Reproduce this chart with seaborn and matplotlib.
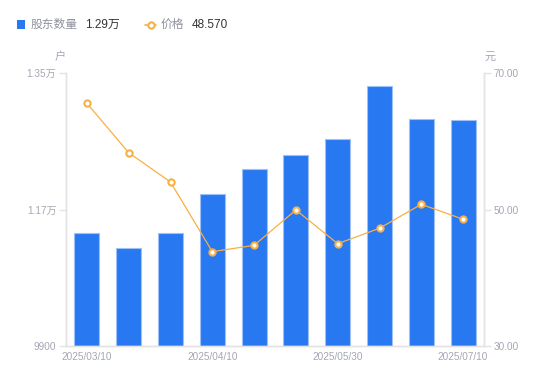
import numpy as np
import pandas as pd
import matplotlib
matplotlib.use("Agg")
import matplotlib.pyplot as plt
from matplotlib.patches import Rectangle
import seaborn as sns

# ---- data ----
dates = ["2025/03/10", "2025/03/20", "2025/03/31", "2025/04/10", "2025/04/20",
         "2025/04/30", "2025/05/30", "2025/06/10", "2025/06/20", "2025/07/10"]
holders = [11394, 11188, 11394, 11908, 12234, 12419, 12634, 13329, 12897, 12884]
price = [65.56, 58.32, 54.03, 43.82, 44.75, 49.93, 44.99, 47.25, 50.76, 48.57]
shown_labels = ["2025/03/10", "2025/04/10", "2025/05/30", "2025/07/10"]
left_ticks = [9900, 11700, 13500]
left_tick_labels = ["9900", "1.17万", "1.35万"]
right_ticks = [30, 50, 70]
right_tick_labels = ["30.00", "50.00", "70.00"]
legend_bar_name, legend_bar_value = "股东数量", "1.29万"
legend_line_name, legend_line_value = "价格", "48.570"

BLUE = "#2878f2"
ORANGE = "#f9b042"
GRAY_TXT = "#a3a6b3"
AXIS = "#e3e3e6"

sns.set_theme(style="white")
plt.rcParams["font.family"] = ["Liberation Sans", "Noto Sans CJK SC", "DejaVu Sans"]

W, H = 550, 381
fig = plt.figure(figsize=(W / 100, H / 100), dpi=100)
ax = fig.add_axes([66 / W, 1 - 346 / H, (484 - 66) / W, (346 - 73) / H])

df = pd.DataFrame({"date": dates, "holders": holders, "price": price})
df["pos"] = np.arange(len(df))

sns.barplot(data=df, x="date", y="holders", ax=ax, color=BLUE, width=0.6,
            edgecolor="#9cc0f7", linewidth=0.8, saturation=1)
ax.set_ylim(9900, 13500)
ax.set_yticks(left_ticks)
ax.set_yticklabels(left_tick_labels)
ax.set_xlabel("")
ax.set_ylabel("")
ax.set_xticks([dates.index(d) for d in shown_labels])
ax.set_xticklabels(shown_labels)

ax2 = ax.twinx()
sns.lineplot(data=df, x="pos", y="price", ax=ax2, color=ORANGE, linewidth=0.9,
             marker="o", markersize=4.5, markerfacecolor="white",
             markeredgecolor=ORANGE, markeredgewidth=1.5)
ax2.set_ylim(30, 70)
ax2.set_yticks(right_ticks)
ax2.set_yticklabels(right_tick_labels)
ax2.set_ylabel("")
ax2.set_xlabel("")
ax.set_xlim(-0.5, len(dates) - 0.5)

for a in (ax, ax2):
    a.grid(False)
    a.spines["top"].set_visible(False)
    for s in ("left", "right", "bottom"):
        a.spines[s].set_color(AXIS)
        a.spines[s].set_linewidth(1)
ax.tick_params(axis="y", which="both", left=True, length=5, width=1, color=AXIS,
               labelsize=7.2, labelcolor=GRAY_TXT, pad=2)
ax.tick_params(axis="x", length=0, labelsize=7.2, labelcolor=GRAY_TXT, pad=4)
ax2.tick_params(axis="y", right=True, length=5, width=1, color=AXIS,
                labelsize=7.2, labelcolor=GRAY_TXT, pad=2)

def fx(x):
    return x / W

def fy(y):
    return 1 - y / H

# units
fig.text(fx(60), fy(57), "户", ha="center", va="center", fontsize=8, color=GRAY_TXT)
fig.text(fx(490), fy(57), "元", ha="center", va="center", fontsize=8, color=GRAY_TXT)

# legend
fig.patches.append(Rectangle((fx(17), fy(29)), 8 / W, 9 / H, transform=fig.transFigure,
                             facecolor=BLUE, edgecolor="none"))
fig.text(fx(31), fy(24.5), legend_bar_name, ha="left", va="center", fontsize=8.5, color="#8f929e")
fig.text(fx(85), fy(24.5), legend_bar_value, ha="left", va="center", fontsize=8.5, color="#333333")
fig.add_artist(plt.Line2D([fx(145), fx(156)], [fy(24.5), fy(24.5)], transform=fig.transFigure,
                          color=ORANGE, linewidth=1.2))
fig.add_artist(plt.Line2D([fx(150.5)], [fy(24.5)], transform=fig.transFigure,
                          linestyle="none", marker="o", markersize=4.5,
                          markerfacecolor="white", markeredgecolor=ORANGE, markeredgewidth=1.5))
fig.text(fx(161), fy(24.5), legend_line_name, ha="left", va="center", fontsize=8.5, color="#8f929e")
fig.text(fx(192), fy(24.5), legend_line_value, ha="left", va="center", fontsize=8.5, color="#333333")

fig.savefig("out.png", dpi=100)
